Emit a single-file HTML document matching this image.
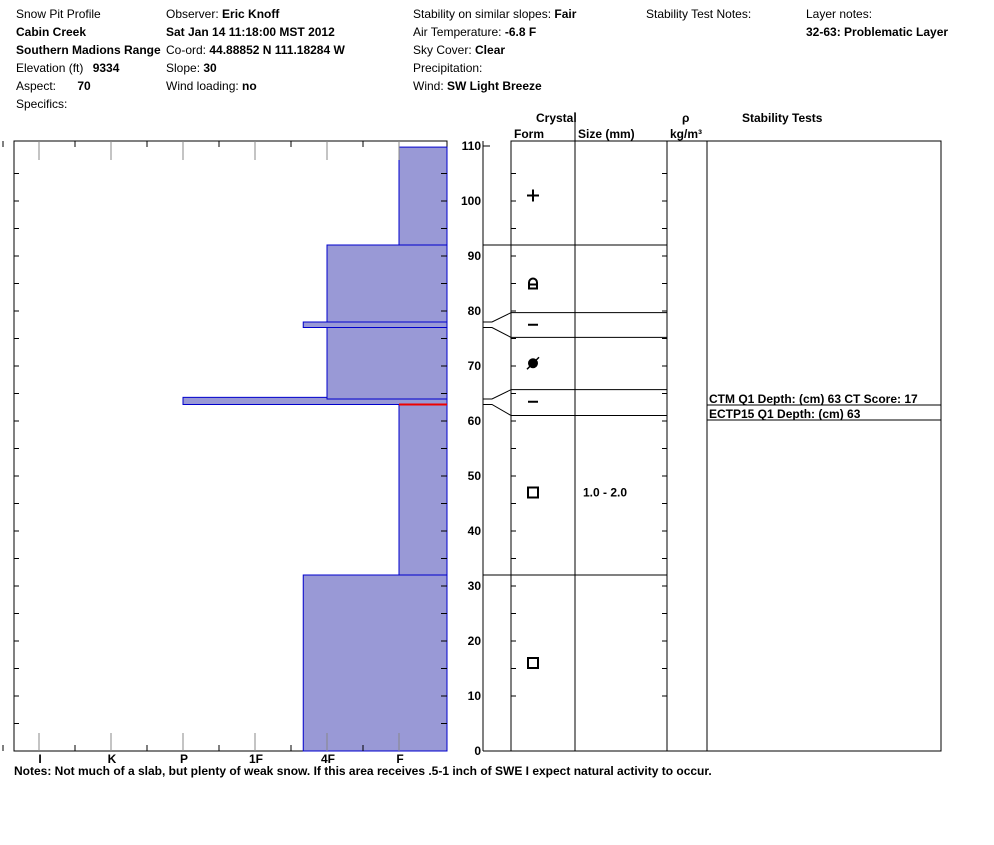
<!DOCTYPE html>
<html><head><meta charset="utf-8"><style>
body{margin:0;background:#fff}
svg text{font-family:"Liberation Sans",Arial,sans-serif;font-size:12px;fill:#000}
.b{font-weight:bold}
</style></head><body>
<svg id="c" width="994" height="840" xmlns="http://www.w3.org/2000/svg">
<g>
<text x="16" y="18">Snow Pit Profile</text>
<text x="16" y="36" class="b">Cabin Creek</text>
<text x="16" y="54" class="b">Southern Madions Range</text>
<text x="16" y="72">Elevation (ft) <tspan class="b" dx="6">9334</tspan></text>
<text x="16" y="90">Aspect: <tspan class="b" dx="18">70</tspan></text>
<text x="16" y="108">Specifics:</text>
<text x="166" y="18">Observer: <tspan class="b">Eric Knoff</tspan></text>
<text x="166" y="36" class="b">Sat Jan 14 11:18:00 MST 2012</text>
<text x="166" y="54">Co-ord: <tspan class="b">44.88852 N 111.18284 W</tspan></text>
<text x="166" y="72">Slope: <tspan class="b">30</tspan></text>
<text x="166" y="90">Wind loading: <tspan class="b">no</tspan></text>
<text x="413" y="18">Stability on similar slopes: <tspan class="b">Fair</tspan></text>
<text x="413" y="36">Air Temperature: <tspan class="b">-6.8 F</tspan></text>
<text x="413" y="54">Sky Cover: <tspan class="b">Clear</tspan></text>
<text x="413" y="72">Precipitation:</text>
<text x="413" y="90">Wind: <tspan class="b">SW Light Breeze</tspan></text>
<text x="646" y="18">Stability Test Notes:</text>
<text x="806" y="18">Layer notes:</text>
<text x="806" y="36" class="b">32-63: Problematic Layer</text>
</g>
<g class="b">
<text x="536" y="122" class="b">Crystal</text>
<text x="514" y="138" class="b">Form</text>
<text x="578" y="138" class="b">Size (mm)</text>
<text x="682" y="122" class="b">ρ</text>
<text x="670" y="138" class="b">kg/m³</text>
<text x="742" y="122" class="b">Stability Tests</text>
<line x1="575" y1="112" x2="575" y2="141" stroke="#000"/>
</g>
<g id="hard"></g>
<g id="cryst"></g>
<text x="14" y="775" class="b">Notes:  Not much of a slab, but plenty of weak snow.  If this area receives .5-1 inch of SWE I expect natural activity to occur.</text>
</svg>
<script>
// layer data (cm)
const layerBottom = [0, 32, 63, 64, 77, 78, 92];
const layerTop = [32, 63, 64.3, 77, 78, 92, 109.8];
const layerHard = [2.33, 1, 4, 2, 2.33, 2, 1];
const hardLabels = ["F","4F","1F","P","K","I"];
const depthTicks = [0,10,20,30,40,50,60,70,80,90,100,110];
const crystalBounds = [0, 32, 61, 65.7, 75.2, 79.7, 92, 110];
const connectFrom = [63, 64, 77, 78];
const connectTo = [61, 65.7, 75.2, 79.7];
const forms = [{d:16,s:"sq"},{d:47,s:"sq"},{d:63.5,s:"dash"},{d:70.5,s:"dot"},{d:77.5,s:"dash"},{d:85,s:"lock"},{d:101,s:"plus"}];
const sizes = [{d:47,t:"1.0 - 2.0"}];
const tests = ["CTM Q1 Depth: (cm) 63 CT Score: 17","ECTP15 Q1 Depth: (cm) 63"];
const redLine = 63;

const NS="http://www.w3.org/2000/svg";
const y = d => 751 - d*5.5;
const xh = h => 471 - 72*h;
function mk(p,t,a){const e=document.createElementNS(NS,t);for(const k in a)e.setAttribute(k,a[k]);p.appendChild(e);return e;}
const H=document.getElementById('hard'), C=document.getElementById('cryst');
// hardness frame
const hf=mk(H,'rect',{x:14,y:141,width:433,height:610,fill:'#fff',stroke:'#000'});


for(let i=0;i<layerHard.length;i++){
  const r=mk(H,'rect',{x:xh(layerHard[i]),y:y(layerTop[i]),width:447-xh(layerHard[i]),height:y(layerBottom[i])-y(layerTop[i]),fill:'#9999d6',stroke:'#0000cc','stroke-width':1});
  
  
}
hardLabels.forEach((l,i)=>{
  const x=xh(i+1);
  mk(H,'line',{x1:x,y1:141,x2:x,y2:160,stroke:'#888'});
  mk(H,'line',{x1:x,y1:733,x2:x,y2:751,stroke:'#888'});
  const hx=x-36;
  mk(H,'line',{x1:hx,y1:141,x2:hx,y2:147,stroke:'#000'});
  mk(H,'line',{x1:hx,y1:745,x2:hx,y2:751,stroke:'#000'});
  const t=mk(H,'text',{x:x+1,y:763,'text-anchor':'middle',class:'b'});t.textContent=l;
  
  
});
for(let d=5;d<110;d+=5){
  mk(H,'line',{x1:14,y1:y(d),x2:19,y2:y(d),stroke:'#000'});
  mk(H,'line',{x1:441,y1:y(d),x2:447,y2:y(d),stroke:'#000'});
}
const rl=mk(H,'line',{x1:xh(1),y1:y(redLine),x2:447,y2:y(redLine),stroke:'#e00','stroke-width':2});


depthTicks.forEach(d=>{
  const t=mk(H,'text',{x:481,y:y(d)+4,'text-anchor':'end',class:'b'});t.textContent=d;
  
  
});
// crystal table
mk(C,'line',{x1:483,y1:141,x2:483,y2:751,stroke:'#000'});
mk(C,'line',{x1:483,y1:y(110),x2:490,y2:y(110),stroke:'#000'});
const cf=mk(C,'rect',{x:511,y:141,width:430,height:610,fill:'none',stroke:'#000'});


[575,667,707].forEach(x=>mk(C,'line',{x1:x,y1:141,x2:x,y2:751,stroke:'#000'}));
mk(C,'line',{x1:483,y1:751,x2:511,y2:751,stroke:'#000'});
for(let d=10;d<110;d+=5){
  mk(C,'line',{x1:511,y1:y(d),x2:516,y2:y(d),stroke:'#000'});
  mk(C,'line',{x1:662,y1:y(d),x2:667,y2:y(d),stroke:'#000'});
}
crystalBounds.slice(1,-1).forEach(d=>{
  const l=mk(C,'line',{x1:511,y1:y(d),x2:667,y2:y(d),stroke:'#000'});
  
  
});
mk(C,'line',{x1:483,y1:y(92),x2:511,y2:y(92),stroke:'#000'});
mk(C,'line',{x1:483,y1:y(32),x2:511,y2:y(32),stroke:'#000'});
connectFrom.forEach((d,i)=>{
  mk(C,'polyline',{points:`483,${y(d)} 492,${y(d)} 511,${y(connectTo[i])}`,fill:'none',stroke:'#000'});
});
forms.forEach(f=>{
  const cx=533, cy=y(f.d);
  const g=mk(C,'g',{});
  
  
  if(f.s==='sq') mk(g,'rect',{x:cx-5,y:cy-5,width:10,height:10,fill:'none',stroke:'#000','stroke-width':2});
  if(f.s==='dash') mk(g,'line',{x1:cx-5,y1:cy,x2:cx+5,y2:cy,stroke:'#000','stroke-width':2});
  if(f.s==='plus'){mk(g,'line',{x1:cx-6,y1:cy,x2:cx+6,y2:cy,stroke:'#000','stroke-width':2});mk(g,'line',{x1:cx,y1:cy-6,x2:cx,y2:cy+6,stroke:'#000','stroke-width':2});}
  if(f.s==='dot'){mk(g,'circle',{cx:cx,cy:cy,r:5,fill:'#000'});mk(g,'line',{x1:cx-6,y1:cy+6,x2:cx+6,y2:cy-6,stroke:'#000','stroke-width':1.5});}
  if(f.s==='lock'){mk(g,'path',{d:`M${cx-4},${cy+5} V${cy-1} A4,4 0 0 1 ${cx+4},${cy-1} V${cy+5} Z M${cx-4},${cy+1} H${cx+4}`,fill:'none',stroke:'#000','stroke-width':2});}
});
sizes.forEach(s=>{
  const t=mk(C,'text',{x:583,y:y(s.d)+4,class:'b'});t.textContent=s.t;
  
  
});
tests.forEach((s,i)=>{
  const t=mk(C,'text',{x:709,y:403+i*15,class:'b'});t.textContent=s;
  
  
  mk(C,'line',{x1:707,y1:405+i*15,x2:941,y2:405+i*15,stroke:'#000'});
});
</script>
</body></html>
